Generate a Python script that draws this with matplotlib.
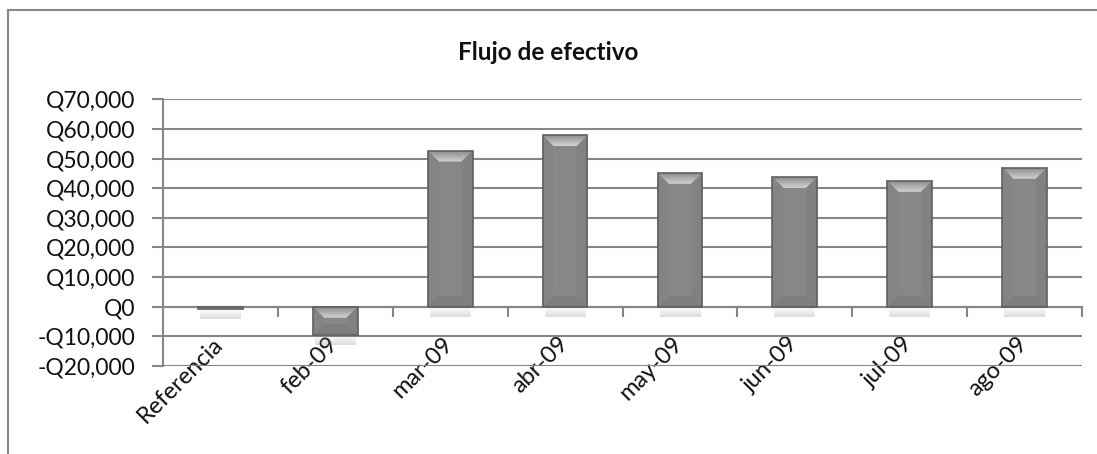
import matplotlib
matplotlib.use("Agg")
import numpy as np
import matplotlib.pyplot as plt
import matplotlib.transforms as mtransforms
from matplotlib.patches import Rectangle, Polygon
from matplotlib.ticker import FuncFormatter

categories = ["Referencia", "feb-09", "mar-09", "abr-09", "may-09", "jun-09", "jul-09", "ago-09"]
values = [-700, -9500, 52700, 57800, 45200, 43800, 42500, 46900]
yticks = [-20000, -10000, 0, 10000, 20000, 30000, 40000, 50000, 60000, 70000]
title = "Flujo de efectivo"

plt.rcParams['font.family'] = ['Lato', 'DejaVu Sans']

W, H = 1097, 454
fig = plt.figure(figsize=(W / 100, H / 100), dpi=100)
ax_left, ax_right, ax_top, ax_bottom = 163, 1082, 99.3, 366
ax = fig.add_axes([ax_left / W, 1 - ax_bottom / H, (ax_right - ax_left) / W, (ax_bottom - ax_top) / H])

grid_c = '#878787'
x = np.arange(len(categories))
ymin, ymax = -20000, 70000
ax.set_xlim(-0.5, len(categories) - 0.5)
ax.set_ylim(ymin, ymax)

bar_w = 0.39
bars = ax.bar(x, values, width=bar_w, color='#878787', edgecolor='none', linewidth=0, zorder=3)

dx_per_px = len(categories) / (ax_right - ax_left)
dy_per_px = (ymax - ymin) / (ax_bottom - ax_top)

def grad_img(c0, c1, n=64):
    c0 = np.array(matplotlib.colors.to_rgba(c0))
    c1 = np.array(matplotlib.colors.to_rgba(c1))
    t = np.linspace(0, 1, n)[:, None]
    return (c0 * (1 - t) + c1 * t)[:, None, :]

for b in bars:
    x0 = b.get_x()
    w = b.get_width()
    x1 = x0 + w
    yb = min(b.get_y(), b.get_y() + b.get_height())
    yt = max(b.get_y(), b.get_y() + b.get_height())
    h_px = (yt - yb) / dy_per_px
    # soft shadow under bar
    sh_h = 10 * dy_per_px
    img = grad_img((0.5, 0.5, 0.5, 0.28), (0.5, 0.5, 0.5, 0.0))
    ax.imshow(img, extent=(x0 + 2 * dx_per_px, x1 - 2 * dx_per_px, yb, yb - sh_h), aspect='auto',
              interpolation='bicubic', zorder=2.5, origin='upper')
    # bevel
    bev = min(11, h_px / 2.2)
    d = bev * dx_per_px
    dyb = bev * dy_per_px
    top = Polygon([(x0, yt), (x1, yt), (x1 - d, yt - dyb), (x0 + d, yt - dyb)], closed=True,
                  facecolor='none', edgecolor='none', zorder=4)
    ax.add_patch(top)
    im = ax.imshow(grad_img('#d2d2d2', '#8e8e8e'), extent=(x0, x1, yt, yt - dyb), aspect='auto',
                   interpolation='bicubic', zorder=4, origin='upper')
    im.set_clip_path(top)
    ax.add_patch(Polygon([(x0, yb), (x1, yb), (x1 - d, yb + dyb), (x0 + d, yb + dyb)], closed=True,
                         facecolor='#7e7e7e', edgecolor='none', zorder=4))
    ax.add_patch(Polygon([(x0, yb), (x0, yt), (x0 + d, yt - dyb), (x0 + d, yb + dyb)], closed=True,
                         facecolor='#848484', edgecolor='none', zorder=4))
    ax.add_patch(Polygon([(x1, yb), (x1, yt), (x1 - d, yt - dyb), (x1 - d, yb + dyb)], closed=True,
                         facecolor='#818181', edgecolor='none', zorder=4))
    ax.add_patch(Rectangle((x0, yb), w, yt - yb, facecolor='none', edgecolor='#606060', linewidth=1.2, zorder=5))

ax.set_yticks(yticks)
ax.yaxis.set_major_formatter(FuncFormatter(lambda v, p: ("-Q{:,.0f}".format(-v) if v < 0 else "Q{:,.0f}".format(v))))
ax.grid(axis='y', color=grid_c, linewidth=1.5, zorder=0)
ax.set_axisbelow(True)

for s in ['top', 'right']:
    ax.spines[s].set_visible(False)
ax.spines['left'].set_color(grid_c)
ax.spines['left'].set_linewidth(1.5)
ax.spines['left'].set_zorder(1)
ax.spines['bottom'].set_position(('data', 0))
ax.spines['bottom'].set_color(grid_c)
ax.spines['bottom'].set_linewidth(1.5)
ax.spines['bottom'].set_zorder(1)

ax.tick_params(axis='y', length=8, width=1.5, color=grid_c, labelsize=16.5, pad=12, labelcolor='#111111')
ax.set_xticks(x + 0.5)
ax.set_xticklabels([])
ax.tick_params(axis='x', which='major', length=7, width=1.5, color=grid_c)
ax.set_xticks(x, minor=True)
ax.set_xticklabels(categories, minor=True, rotation=45, ha='right', va='top', rotation_mode='anchor',
                   fontsize=17, color='#111111')
ax.tick_params(axis='x', which='minor', length=0, pad=19)
shift = mtransforms.ScaledTranslation(-8 / 100, 0, fig.dpi_scale_trans)
for lbl in ax.get_xticklabels(minor=True):
    lbl.set_transform(lbl.get_transform() + shift)

fig.text(548 / W, 1 - 52 / H, title, ha='center', va='center', fontsize=17.5, fontweight='bold', color='#111111')

fig.patches.append(Rectangle((8 / W, -0.1), 1.2, 1 - 10 / H + 0.1, transform=fig.transFigure,
                             fill=False, edgecolor='#878787', linewidth=1.5, clip_on=False))

fig.savefig("out.png", dpi=100)
